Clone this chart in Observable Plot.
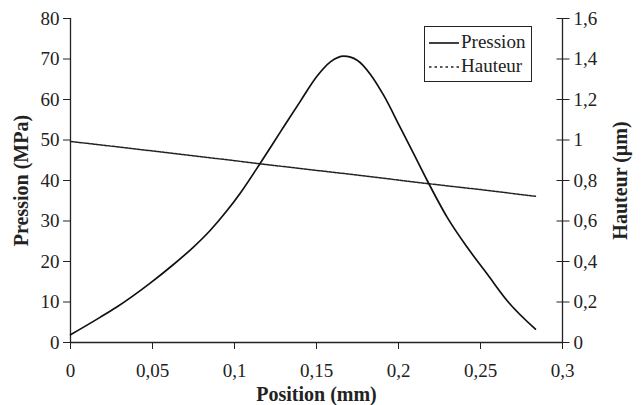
<!DOCTYPE html>
<html>
<head>
<meta charset="utf-8">
<script src="https://cdn.jsdelivr.net/npm/d3@7"></script>
<script src="https://cdn.jsdelivr.net/npm/@observablehq/plot@0.6"></script>
<style>
  body { margin: 0; background: #fff; }
  #wrap { position: relative; width: 644px; height: 405px; }
  #wrap svg g[aria-label*="tick label"] { font-size: 19px !important; }
  #wrap svg g[aria-label="y-axis label"], #wrap svg g[aria-label="x-axis label"] { font-size: 20px !important; font-weight: bold; }
  #legend { position: absolute; left: 424px; top: 26px; width: 108px; height: 56px; border: 1px solid #222;
    background: #fff; font-family: "Liberation Serif", serif; font-size: 19px; color: #222; box-sizing: border-box; }
  #legend .row { position: absolute; left: 4px; display: flex; align-items: center; line-height: 20px; }
  #legend svg { margin-right: 2px; }
</style>
</head>
<body>
<div id="wrap"></div>
<script>
// Pression (MPa) vs position (mm)
const pressionX = [0, 0.018, 0.028, 0.0484, 0.0626, 0.0748, 0.085, 0.0951, 0.1037, 0.1159, 0.128, 0.1402, 0.1504, 0.1585, 0.1667, 0.1748, 0.1829, 0.191, 0.2012, 0.2093, 0.2175, 0.2297, 0.2419, 0.2541, 0.2663, 0.2835];
const pressionY = [1.9, 6.2, 8.7, 14.6, 19.2, 23.5, 27.6, 32.4, 37.0, 44.4, 52.0, 59.6, 65.8, 69.3, 70.7, 69.7, 66.2, 61.0, 53.0, 46.6, 40.0, 30.9, 23.5, 16.9, 10.3, 3.3];
// Hauteur (µm) vs position (mm)
const hauteurX = [0, 0.05, 0.1, 0.117, 0.15, 0.1768, 0.2, 0.2185, 0.25, 0.2835];
const hauteurY = [0.993, 0.946, 0.898, 0.881, 0.85, 0.825, 0.802, 0.784, 0.755, 0.722];
const xTicks = [0, 0.05, 0.1, 0.15, 0.2, 0.25, 0.3];
const yTicks = [0, 10, 20, 30, 40, 50, 60, 70, 80];
const y2Ticks = [0, 0.2, 0.4, 0.6, 0.8, 1, 1.2, 1.4, 1.6];
const y2Ratio = 80 / 1.6;

const pression = pressionX.map((x, i) => ({x, y: pressionY[i]}));
const hauteur = hauteurX.map((x, i) => ({x, y: hauteurY[i]}));
const fr = d => String(d).replace(".", ",");

const chart = Plot.plot({
  width: 644,
  height: 405,
  marginLeft: 70,
  marginRight: 82,
  marginTop: 18,
  marginBottom: 63,
  style: {fontFamily: "Liberation Serif, serif", fontSize: "19px", color: "#222", background: "#fff"},
  x: {domain: [0, 0.3]},
  y: {domain: [0, 80]},
  marks: [
    Plot.axisX({ticks: xTicks, tickFormat: fr, tickSize: 7, tickPadding: 14, label: "Position (mm)", labelArrow: "none", labelAnchor: "center", labelOffset: 58, stroke: "#222"}),
    Plot.axisY({ticks: yTicks, tickFormat: fr, tickSize: 7, tickPadding: 4, label: "Pression (MPa)", labelArrow: "none", labelAnchor: "center", labelOffset: 57, stroke: "#222"}),
    Plot.axisY({anchor: "right", ticks: y2Ticks.map(v => v * y2Ratio), tickSize: 13, dx: -6.5, tickFormat: () => "", label: null, stroke: "#222"}),
    Plot.axisY({anchor: "right", ticks: y2Ticks.map(v => v * y2Ratio), tickSize: 0, tickPadding: 11, tickFormat: v => fr(+(v / y2Ratio).toFixed(1)), label: "Hauteur (µm)", labelArrow: "none", labelAnchor: "center", labelOffset: 64}),
    Plot.ruleX([0, 0.3], {stroke: "#222", strokeWidth: 1.3}),
    Plot.ruleY([0], {stroke: "#222", strokeWidth: 1.3}),
    Plot.line(hauteur, {x: "x", y: d => d.y * y2Ratio, stroke: "#222", strokeWidth: 1.5, strokeDasharray: "3,1.2"}),
    Plot.line(pression, {x: "x", y: "y", stroke: "#111", strokeWidth: 1.7, curve: "monotone-x"})
  ]
});
const wrap = document.getElementById("wrap");
wrap.appendChild(chart);

const legend = document.createElement("div");
legend.id = "legend";
legend.innerHTML = `
  <div class="row" style="top:5px"><svg width="30" height="20"><line x1="0" y1="11" x2="30" y2="11" stroke="#111" stroke-width="1.6"/></svg>Pression</div>
  <div class="row" style="top:29px"><svg width="30" height="20"><line x1="0" y1="11" x2="30" y2="11" stroke="#222" stroke-width="1.3" stroke-dasharray="2.5,3"/></svg>Hauteur</div>`;
wrap.appendChild(legend);
</script>
</body>
</html>
